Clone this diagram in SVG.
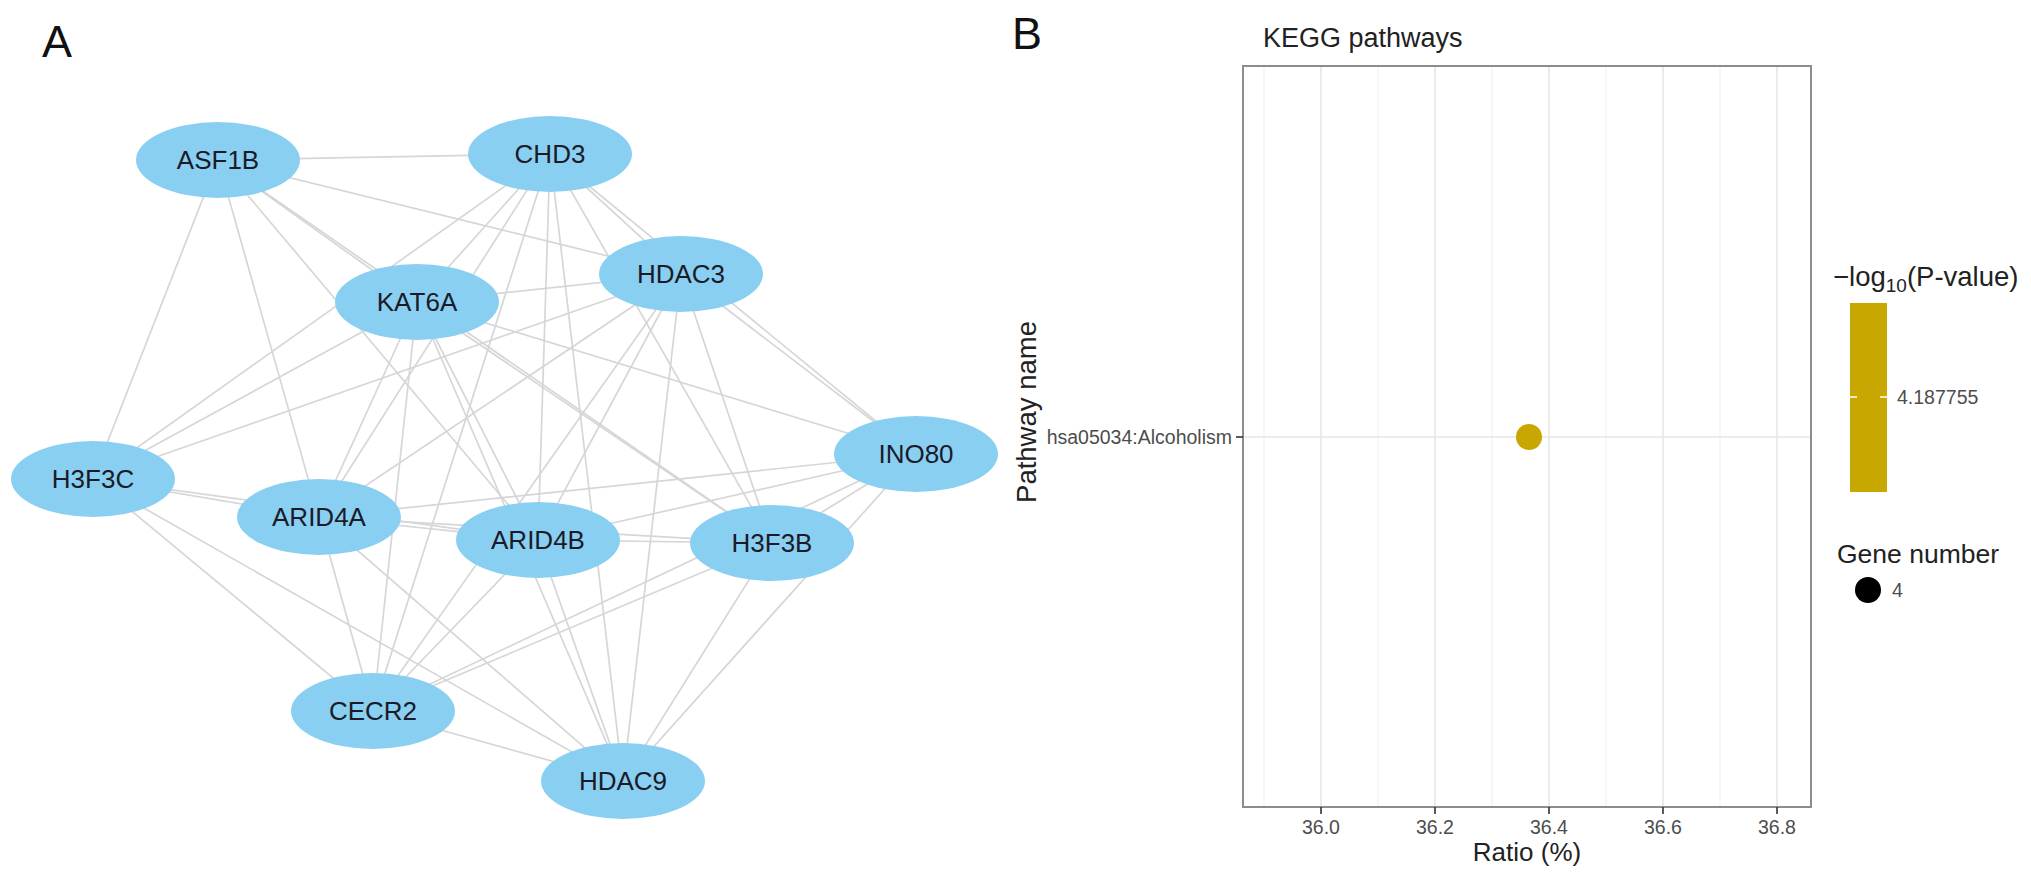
<svg xmlns="http://www.w3.org/2000/svg" width="2031" height="879" viewBox="0 0 2031 879">
<style>
.edge{stroke:#d6d6d6;stroke-width:1.7;fill:none}
.node ellipse{fill:#89CFF2}
.node text{font-family:"Liberation Sans",Arial,sans-serif;font-size:26px;fill:#1a1a28;text-anchor:middle}
.panel{font-family:"Liberation Sans",Arial,sans-serif;font-size:45px;fill:#111}
.t{font-family:"Liberation Sans",Arial,sans-serif;fill:#222}
.tick{font-family:"Liberation Sans",Arial,sans-serif;font-size:19.5px;fill:#4d4d4d}
.gmaj{stroke:#e6e6e6;stroke-width:1.6}
.gmin{stroke:#f2f2f2;stroke-width:1.2}
</style>
<rect width="2031" height="879" fill="#fff"/>
<text class="panel" x="42" y="57">A</text>
<text class="panel" x="1012" y="49">B</text>
<g id="connectors">
<!-- ASF1B -->
<line class="edge" x1="218" y1="160" x2="550" y2="154"/>
<line class="edge" x1="218" y1="160" x2="681" y2="274"/>
<line class="edge" x1="218" y1="160" x2="417" y2="302"/>
<line class="edge" x1="218" y1="160" x2="538" y2="540"/>
<line class="edge" x1="218" y1="160" x2="93" y2="479"/>
<line class="edge" x1="218" y1="160" x2="319" y2="517"/>
<line class="edge" x1="218" y1="160" x2="772" y2="543"/>
<!-- CHD3 -->
<line class="edge" x1="550" y1="154" x2="417" y2="302"/>
<line class="edge" x1="550" y1="154" x2="319" y2="517"/>
<line class="edge" x1="550" y1="154" x2="373" y2="711"/>
<line class="edge" x1="550" y1="154" x2="538" y2="540"/>
<line class="edge" x1="550" y1="154" x2="623" y2="781"/>
<line class="edge" x1="550" y1="154" x2="772" y2="543"/>
<line class="edge" x1="550" y1="154" x2="681" y2="274"/>
<line class="edge" x1="550" y1="154" x2="916" y2="454"/>
<line class="edge" x1="550" y1="154" x2="93" y2="479"/>
<!-- HDAC3 -->
<line class="edge" x1="681" y1="274" x2="417" y2="302"/>
<line class="edge" x1="681" y1="274" x2="93" y2="479"/>
<line class="edge" x1="681" y1="274" x2="319" y2="517"/>
<line class="edge" x1="681" y1="274" x2="538" y2="540"/>
<line class="edge" x1="681" y1="274" x2="373" y2="711"/>
<line class="edge" x1="681" y1="274" x2="623" y2="781"/>
<line class="edge" x1="681" y1="274" x2="772" y2="543"/>
<line class="edge" x1="681" y1="274" x2="916" y2="454"/>
<!-- KAT6A -->
<line class="edge" x1="417" y1="302" x2="319" y2="517"/>
<line class="edge" x1="417" y1="302" x2="373" y2="711"/>
<line class="edge" x1="417" y1="302" x2="538" y2="540"/>
<line class="edge" x1="417" y1="302" x2="623" y2="781"/>
<line class="edge" x1="417" y1="302" x2="772" y2="543"/>
<line class="edge" x1="417" y1="302" x2="916" y2="454"/>
<line class="edge" x1="417" y1="302" x2="93" y2="479"/>
<!-- INO80 -->
<line class="edge" x1="916" y1="454" x2="319" y2="517"/>
<line class="edge" x1="916" y1="454" x2="538" y2="540"/>
<line class="edge" x1="916" y1="454" x2="772" y2="543"/>
<line class="edge" x1="916" y1="454" x2="623" y2="781"/>
<line class="edge" x1="916" y1="454" x2="373" y2="711"/>
<!-- H3F3C -->
<line class="edge" x1="93" y1="479" x2="319" y2="517"/>
<line class="edge" x1="93" y1="479" x2="538" y2="540"/>
<line class="edge" x1="93" y1="479" x2="373" y2="711"/>
<line class="edge" x1="93" y1="479" x2="623" y2="781"/>
<!-- ARID4A -->
<line class="edge" x1="319" y1="517" x2="538" y2="540"/>
<line class="edge" x1="319" y1="517" x2="373" y2="711"/>
<line class="edge" x1="319" y1="517" x2="623" y2="781"/>
<line class="edge" x1="319" y1="517" x2="772" y2="543"/>
<!-- ARID4B -->
<line class="edge" x1="538" y1="540" x2="772" y2="543"/>
<line class="edge" x1="538" y1="540" x2="373" y2="711"/>
<line class="edge" x1="538" y1="540" x2="623" y2="781"/>
<!-- H3F3B -->
<line class="edge" x1="772" y1="543" x2="623" y2="781"/>
<line class="edge" x1="772" y1="543" x2="373" y2="711"/>
<!-- CECR2 -->
<line class="edge" x1="373" y1="711" x2="623" y2="781"/>
</g>
<g id="n-ASF1B" class="node"><ellipse cx="218" cy="160" rx="82" ry="38"/><text x="218" y="169">ASF1B</text></g>
<g id="n-CHD3" class="node"><ellipse cx="550" cy="154" rx="82" ry="38"/><text x="550" y="163">CHD3</text></g>
<g id="n-HDAC3" class="node"><ellipse cx="681" cy="274" rx="82" ry="38"/><text x="681" y="283">HDAC3</text></g>
<g id="n-KAT6A" class="node"><ellipse cx="417" cy="302" rx="82" ry="38"/><text x="417" y="311">KAT6A</text></g>
<g id="n-INO80" class="node"><ellipse cx="916" cy="454" rx="82" ry="38"/><text x="916" y="463">INO80</text></g>
<g id="n-H3F3C" class="node"><ellipse cx="93" cy="479" rx="82" ry="38"/><text x="93" y="488">H3F3C</text></g>
<g id="n-ARID4A" class="node"><ellipse cx="319" cy="517" rx="82" ry="38"/><text x="319" y="526">ARID4A</text></g>
<g id="n-ARID4B" class="node"><ellipse cx="538" cy="540" rx="82" ry="38"/><text x="538" y="549">ARID4B</text></g>
<g id="n-H3F3B" class="node"><ellipse cx="772" cy="543" rx="82" ry="38"/><text x="772" y="552">H3F3B</text></g>
<g id="n-CECR2" class="node"><ellipse cx="373" cy="711" rx="82" ry="38"/><text x="373" y="720">CECR2</text></g>
<g id="n-HDAC9" class="node"><ellipse cx="623" cy="781" rx="82" ry="38"/><text x="623" y="790">HDAC9</text></g>

<g id="plot">
<text class="t" x="1263" y="47" font-size="27">KEGG pathways</text>
<g id="grid">
<line class="gmin" x1="1264" y1="66" x2="1264" y2="807"/>
<line class="gmin" x1="1378" y1="66" x2="1378" y2="807"/>
<line class="gmin" x1="1492" y1="66" x2="1492" y2="807"/>
<line class="gmin" x1="1606" y1="66" x2="1606" y2="807"/>
<line class="gmin" x1="1720" y1="66" x2="1720" y2="807"/>
<line class="gmaj" x1="1321" y1="66" x2="1321" y2="807"/>
<line class="gmaj" x1="1435" y1="66" x2="1435" y2="807"/>
<line class="gmaj" x1="1549" y1="66" x2="1549" y2="807"/>
<line class="gmaj" x1="1663" y1="66" x2="1663" y2="807"/>
<line class="gmaj" x1="1777" y1="66" x2="1777" y2="807"/>
<line class="gmaj" x1="1243" y1="437" x2="1811" y2="437"/>
</g>
<rect x="1243" y="66" width="568" height="741" fill="none" stroke="#8c8c8c" stroke-width="2"/>
<circle cx="1529" cy="437" r="13" fill="#C8A700"/>
<line x1="1236" y1="437" x2="1243" y2="437" stroke="#333" stroke-width="1.6"/>
<text class="tick" x="1232" y="444" text-anchor="end">hsa05034:Alcoholism</text>
<g stroke="#333" stroke-width="1.6">
<line x1="1321" y1="807" x2="1321" y2="814"/>
<line x1="1435" y1="807" x2="1435" y2="814"/>
<line x1="1549" y1="807" x2="1549" y2="814"/>
<line x1="1663" y1="807" x2="1663" y2="814"/>
<line x1="1777" y1="807" x2="1777" y2="814"/>
</g>
<g class="tick" text-anchor="middle">
<text x="1321" y="834">36.0</text>
<text x="1435" y="834">36.2</text>
<text x="1549" y="834">36.4</text>
<text x="1663" y="834">36.6</text>
<text x="1777" y="834">36.8</text>
</g>
<text class="t" x="1527" y="861" font-size="26" text-anchor="middle">Ratio (%)</text>
<text class="t" font-size="27.5" text-anchor="middle" transform="translate(1036,412) rotate(-90)">Pathway name</text>
</g>
<g id="legend">
<text class="t" x="1833" y="286" font-size="27.5">−log<tspan font-size="19" dy="6">10</tspan><tspan dy="-6">(P-value)</tspan></text>
<rect x="1850" y="303" width="37" height="189" fill="#C8A700"/>
<line x1="1850" y1="397" x2="1857" y2="397" stroke="#fff" stroke-width="1.5"/>
<line x1="1880" y1="397" x2="1887" y2="397" stroke="#fff" stroke-width="1.5"/>
<text class="tick" x="1897" y="404">4.187755</text>
<text class="t" x="1837" y="563" font-size="26.5">Gene number</text>
<circle cx="1868" cy="590" r="13" fill="#000"/>
<text class="tick" x="1892" y="597">4</text>
</g>
</svg>
